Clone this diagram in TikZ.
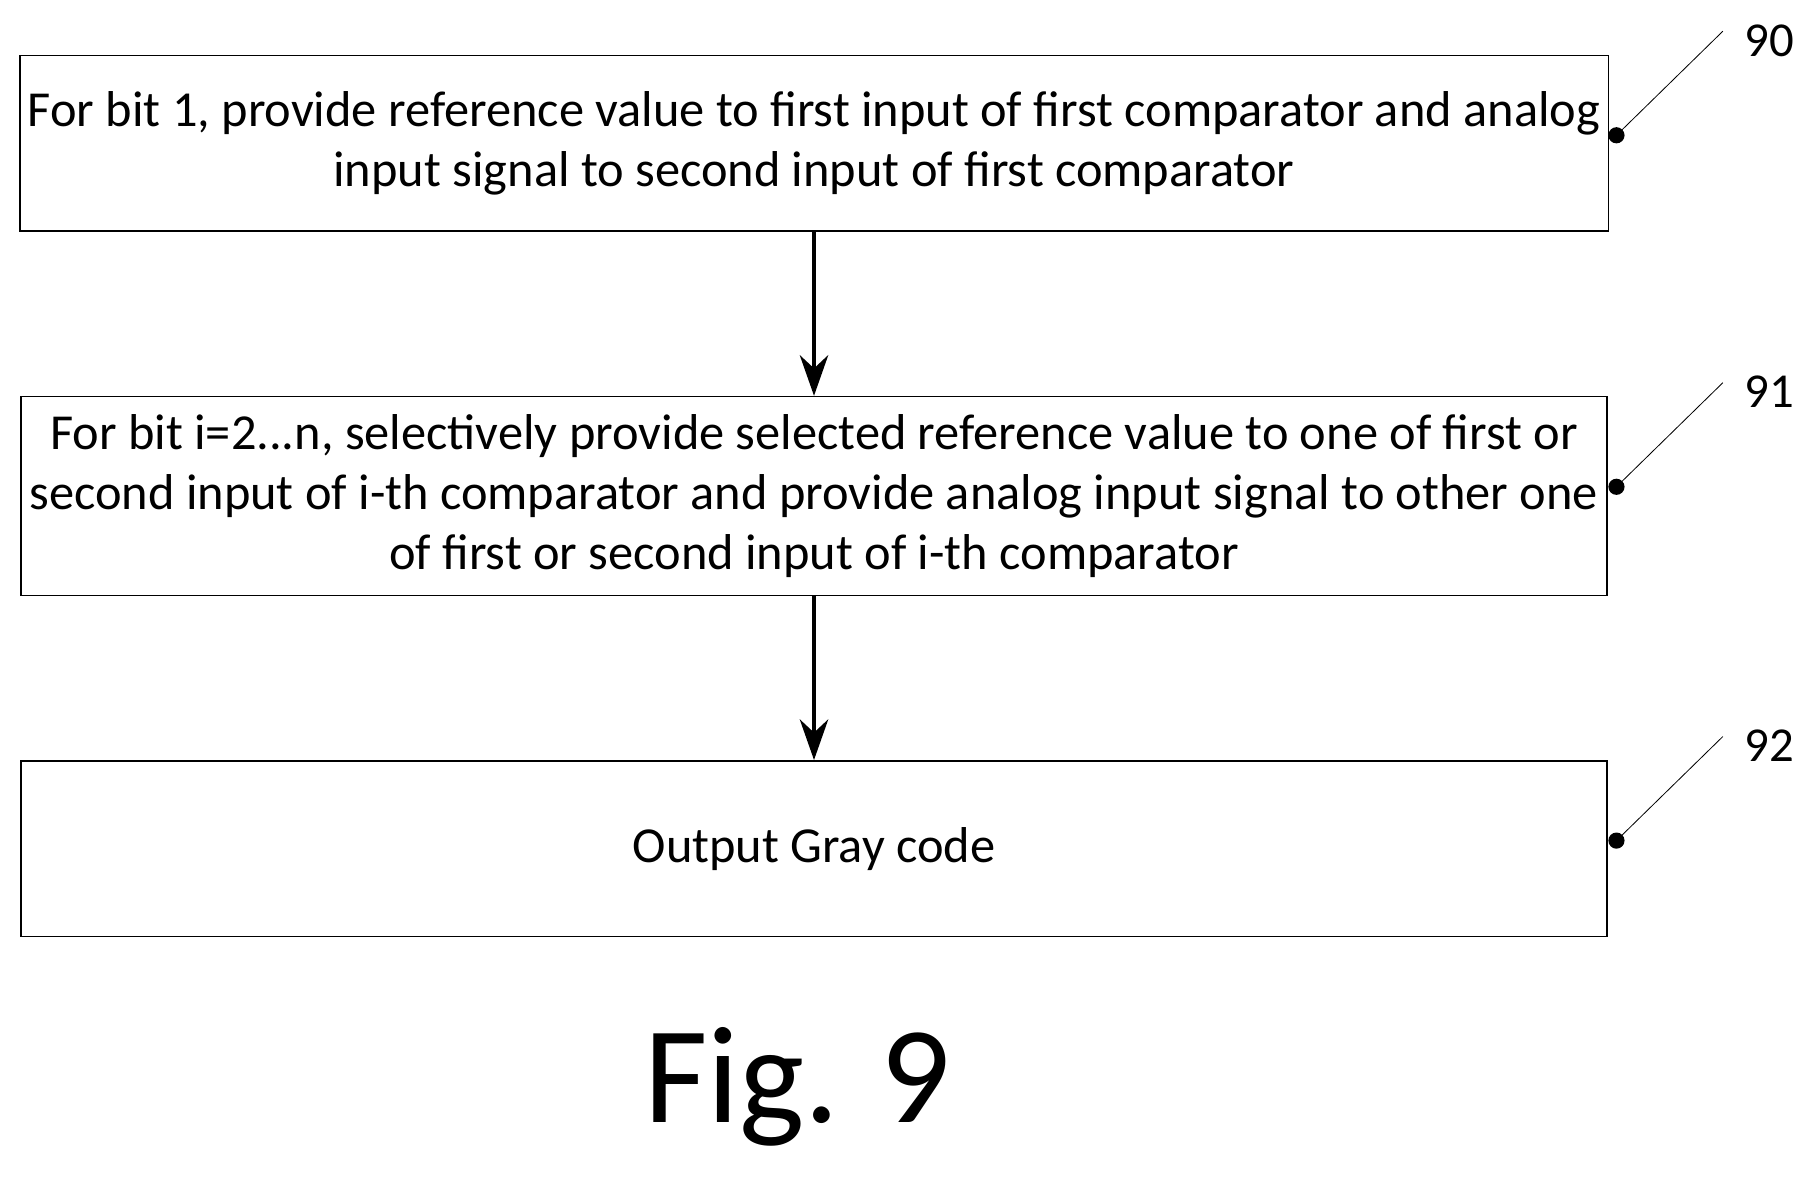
\documentclass[tikz,border=0pt]{standalone}
\usepackage{fontspec}
\setmainfont{Carlito}
\usetikzlibrary{arrows.meta}
\tikzset{stepbox/.style={draw,thin,minimum width=13.72cm,align=center,font=\fontsize{12.4pt}{14.8pt}\selectfont,inner sep=2pt},
  refnum/.style={font=\fontsize{12pt}{14pt}\selectfont}}
\begin{document}
\begin{tikzpicture}
    \useasboundingbox (0,0) rectangle (15.68,-10.19);
    \node[stepbox,minimum height=1.52cm] (s90) at (7.04,-1.24) {For bit 1, provide reference value to first input of first comparator and analog\\input signal to second input of first comparator};
    \node[stepbox,minimum height=1.72cm] (s91) at (7.04,-4.29) {For bit i=2...n, selectively provide selected reference value to one of first or\\second input of i-th comparator and provide analog input signal to other one\\of first or second input of i-th comparator};
    \node[stepbox,minimum height=1.52cm] (s92) at (7.04,-7.34) {Output Gray code};
    \draw[-{Stealth[length=10pt,width=7pt]},thick] (s90) -- (s91);
    \draw[-{Stealth[length=10pt,width=7pt]},thick] (s91) -- (s92);
    % reference numerals
    \foreach \n/\y in {90/1.17,91/4.21,92/7.27} {
      \fill (13.98,-\y) circle (0.07) coordinate (d\n);
      \node[refnum] (r\n) at (15.3,-\y+0.82) {\n};
      \draw[very thin] (d\n) -- (14.9,-\y+0.9);
    }
    \node[font=\fontsize{34pt}{37pt}\selectfont] (fig) at (6.9,-9.4) {Fig. 9};
\end{tikzpicture}
\end{document}
